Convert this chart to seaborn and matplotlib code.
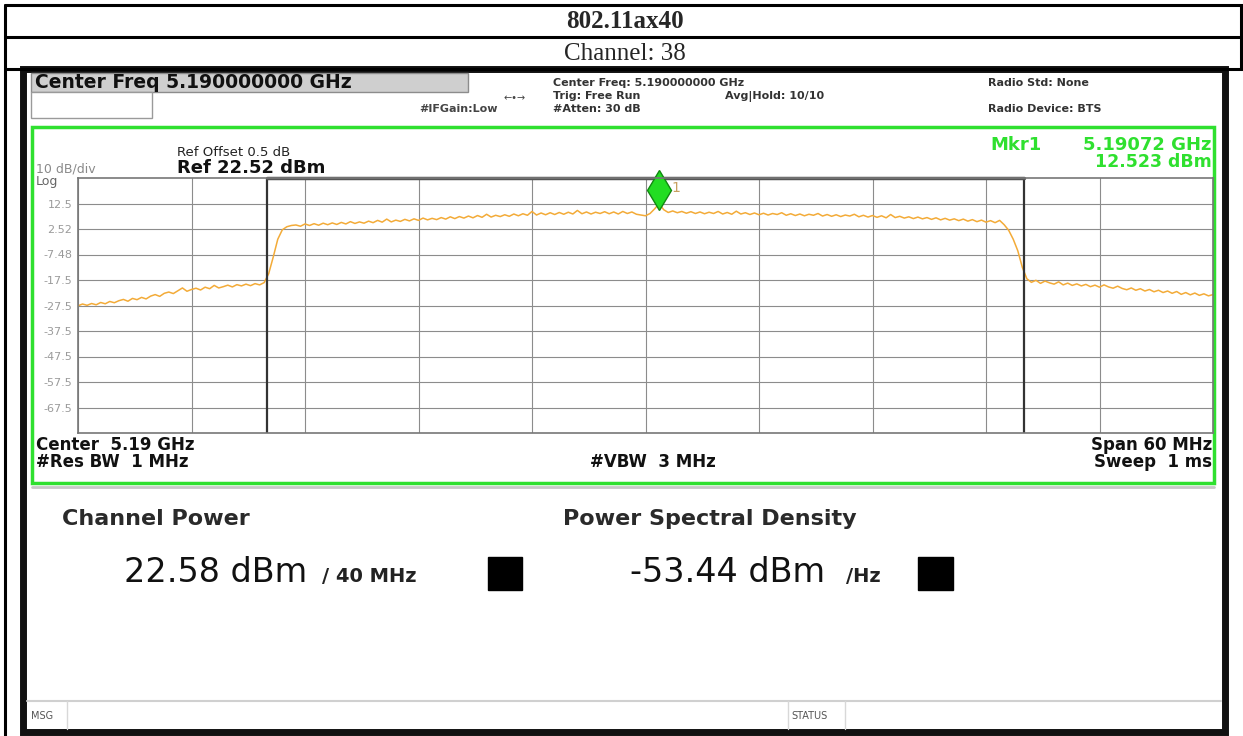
import numpy as np
import matplotlib
matplotlib.use("Agg")
import matplotlib.pyplot as plt
import seaborn as sns
from matplotlib.patches import Rectangle
from matplotlib.transforms import offset_copy

# trace, 251 sweep points over 5.16-5.22 GHz (dBm)
level_dbm = [
    -27.6, -26.9, -27.4, -26.7, -27.2, -26.3, -26.8, -25.9, -26.4, -25.6,
    -25.1, -25.8, -24.7, -25.2, -24.3, -24.9, -23.8, -23.2, -23.9, -22.7,
    -22.2, -22.8, -21.7, -20.6, -21.9, -21.2, -20.7, -21.4, -20.3, -20.9,
    -19.6, -20.6, -20.1, -19.5, -20.2, -19.3, -19.8, -19.1, -19.7, -18.9,
    -19.4, -18.5, -15.0, -8.5, -1.5, 2.2, 3.4, 3.9, 4.1, 3.6,
    4.5, 3.9, 4.6, 4.0, 4.8, 4.2, 4.9, 4.3, 5.1, 4.5,
    5.4, 4.7, 5.3, 4.8, 5.6, 5.0, 5.9, 5.2, 6.4, 5.3,
    6.0, 5.5, 6.3, 5.7, 6.5, 5.9, 6.8, 6.1, 6.7, 6.2,
    7.0, 6.4, 7.3, 6.6, 7.4, 6.8, 7.6, 6.9, 7.8, 7.1,
    8.3, 7.2, 7.9, 7.4, 8.1, 7.5, 8.4, 7.7, 8.5, 7.9,
    9.4, 8.0, 8.8, 8.1, 8.9, 8.2, 9.0, 8.3, 9.1, 8.4,
    9.8, 8.5, 9.2, 8.4, 9.1, 8.6, 9.3, 8.5, 9.2, 8.4,
    9.4, 8.6, 9.2, 8.3, 8.0, 7.7, 8.6, 10.4, 12.5, 10.1,
    9.0, 9.6, 8.9, 9.4, 8.7, 9.3, 8.6, 9.2, 8.5, 9.1,
    8.6, 9.4, 8.4, 9.0, 8.3, 9.5, 8.4, 8.9, 8.2, 8.8,
    8.1, 8.7, 8.0, 8.6, 8.2, 8.9, 7.9, 8.5, 7.8, 8.4,
    7.7, 8.3, 7.9, 8.6, 7.6, 8.2, 7.5, 8.1, 7.4, 8.0,
    7.6, 8.3, 7.3, 7.9, 7.2, 7.8, 7.1, 7.7, 6.9, 8.2,
    7.0, 7.5, 6.8, 7.3, 6.6, 7.2, 6.5, 7.0, 6.3, 6.9,
    6.1, 6.7, 6.0, 6.5, 5.8, 6.4, 5.6, 6.2, 5.4, 6.0,
    5.2, 5.8, 5.0, 5.9, 4.2, 2.0, -1.5, -6.0, -12.5, -17.0,
    -18.4, -17.6, -18.8, -17.9, -18.6, -19.1, -18.2, -19.4, -18.7, -19.6,
    -19.0, -19.8, -19.2, -20.1, -19.5, -20.3, -19.4, -20.2, -20.7, -19.9,
    -20.8, -21.3, -20.6, -21.5, -20.9, -21.8, -21.2, -22.1, -21.5, -22.4,
    -21.8, -22.7, -22.0, -23.1, -22.4, -23.3, -22.6, -23.5, -22.9, -23.7,
    -23.2,
]
start_ghz, stop_ghz = 5.16, 5.22
freq_ghz = np.linspace(start_ghz, stop_ghz, len(level_dbm))

ref_level = 22.52
db_per_div = 10
ytick_labels = ["12.5", "2.52", "-7.48", "-17.5", "-27.5", "-37.5", "-47.5", "-57.5", "-67.5"]
channel_edges = [5.17, 5.21]
marker_freq = 5.19072
marker_level = 12.523

SANS = "DejaVu Sans"
SERIF = "Liberation Serif"
GREEN = "#2fe02f"

sns.set_style("white")
plt.rcParams["font.family"] = [SANS]

fig = plt.figure(figsize=(12.43, 7.36), dpi=100)

# page / table / instrument frame drawn in pixel space
bg = fig.add_axes([0, 0, 1, 1])
bg.set_xlim(0, 1243)
bg.set_ylim(736, 0)
bg.axis("off")

for y in (5, 37, 69):
    bg.plot([5, 1243], [y, y], color="black", lw=2.2)
bg.plot([5, 5], [5, 736], color="black", lw=2.2)
bg.plot([1241, 1241], [5, 69], color="black", lw=2.2)

bg.text(625, 22, "802.11ax40", family=SERIF, weight="bold", fontsize=18,
        ha="center", va="center")
bg.text(625, 54, "Channel: 38", family=SERIF, fontsize=18, ha="center", va="center")

# screenshot border
bg.add_patch(Rectangle((23, 69), 1202, 663, fill=False, ec="#111111", lw=5))

# top status area
bg.add_patch(Rectangle((31, 73), 437, 19, fc="#cfcfcf", ec="#8c8c8c", lw=1))
bg.text(35, 83, "Center Freq 5.190000000 GHz", weight="bold", fontsize=13.5,
        va="center", color="#111111")
bg.add_patch(Rectangle((31, 92), 121, 26, fc="white", ec="#9a9a9a", lw=1))
bg.text(498, 109, "#IFGain:Low", fontsize=8, weight="bold", va="center",
        ha="right", color="#444444")
bg.text(515, 98, "\u2190\u2022\u2192", fontsize=7, va="center", ha="center", color="#444444")

hdr = dict(fontsize=8, weight="bold", va="center", color="#333333")
bg.text(553, 83, "Center Freq: 5.190000000 GHz", **hdr)
bg.text(553, 96, "Trig: Free Run", **hdr)
bg.text(553, 109, "#Atten: 30 dB", **hdr)
bg.text(725, 96, "Avg|Hold: 10/10", **hdr)
bg.text(988, 83, "Radio Std: None", **hdr)
bg.text(988, 109, "Radio Device: BTS", **hdr)

# green measurement window
bg.add_patch(Rectangle((32, 127), 1182, 356, fill=False, ec=GREEN, lw=2.5))
bg.plot([32, 1214], [487, 487], color="#c8c8c8", lw=2)

bg.text(177, 152, "Ref Offset 0.5 dB", fontsize=9.5, va="center", color="#222222")
bg.text(177, 168, "Ref 22.52 dBm", fontsize=13, weight="bold", va="center", color="#111111")
bg.text(36, 169, "10 dB/div", fontsize=9, va="center", color="#8a8a8a")
bg.text(36, 181, "Log", fontsize=9, va="center", color="#666666")
bg.text(990, 145, "Mkr1", fontsize=13, weight="bold", va="center", color=GREEN)
bg.text(1212, 145, "5.19072 GHz", fontsize=13, weight="bold", va="center",
        ha="right", color=GREEN)
bg.text(1212, 162, "12.523 dBm", fontsize=12.5, weight="bold", va="center",
        ha="right", color=GREEN)

lab = dict(fontsize=12, weight="bold", va="center", color="#111111")
bg.text(36, 445, "Center  5.19 GHz", **lab)
bg.text(36, 462, "#Res BW  1 MHz", **lab)
bg.text(590, 462, "#VBW  3 MHz", **lab)
bg.text(1212, 445, "Span 60 MHz", ha="right", **lab)
bg.text(1212, 462, "Sweep  1 ms", ha="right", **lab)

# results panel
bg.text(62, 519, "Channel Power", fontsize=16, weight="bold", va="center", color="#2a2a2a")
bg.text(563, 519, "Power Spectral Density", fontsize=16, weight="bold", va="center", color="#2a2a2a")
bg.text(124, 573, "22.58 dBm", fontsize=24, va="center", color="#111111")
bg.text(322, 577, "/ 40 MHz", fontsize=14, weight="bold", va="center", color="#222222")
bg.add_patch(Rectangle((488, 557), 34, 33, color="black"))
bg.text(630, 573, "-53.44 dBm", fontsize=24, va="center", color="#111111")
bg.text(846, 577, "/Hz", fontsize=14, weight="bold", va="center", color="#222222")
bg.add_patch(Rectangle((918, 557), 35, 33, color="black"))

# message / status bar
bg.plot([27, 1221], [701, 701], color="#d0d0d0", lw=1.5)
for x in (67, 788, 845):
    bg.plot([x, x], [701, 729], color="#d8d8d8", lw=1)
bg.text(31, 716, "MSG", fontsize=7, va="center", color="#555555")
bg.text(791, 716, "STATUS", fontsize=7, va="center", color="#555555")

# spectrum graticule
ax = fig.add_axes([78 / 1243, 1 - 433 / 736, 1135 / 1243, 255 / 736])
sns.lineplot(x=freq_ghz, y=level_dbm, ax=ax, color="#f3ab38", lw=1.1, estimator=None)

ax.set_xlim(start_ghz, stop_ghz)
ax.set_ylim(ref_level - 10 * db_per_div, ref_level)
ax.set_xticks(np.linspace(start_ghz, stop_ghz, 11))
ax.set_xticklabels([])
ax.set_yticks(ref_level - db_per_div * np.arange(1, 10))
ax.set_yticklabels(ytick_labels)
ax.tick_params(length=0, pad=4, labelsize=8, labelcolor="#9a9a9a")
ax.grid(True, color="#8c8c8c", lw=0.8)
for sp in ax.spines.values():
    sp.set_color("#777777")
    sp.set_linewidth(1.2)
ax.set_xlabel("")
ax.set_ylabel("")

for f in channel_edges:
    ax.axvline(f, color="#333333", lw=1.6)
ax.plot(channel_edges, [ref_level, ref_level], color="#555555", lw=2.5, clip_on=False)

# marker 1, diamond drawn just above the trace point
mk = offset_copy(ax.transData, fig=fig, x=0, y=13, units="dots")
ax.plot([marker_freq], [marker_level], marker="d", ms=20, color="#22dd22",
        mec="#118811", mew=1, transform=mk, clip_on=False)
mk_lab = offset_copy(ax.transData, fig=fig, x=12, y=15, units="dots")
ax.text(marker_freq, marker_level, "1", transform=mk_lab, fontsize=10,
        va="center", color="#c8a060")

fig.savefig("out.png", dpi=100)
